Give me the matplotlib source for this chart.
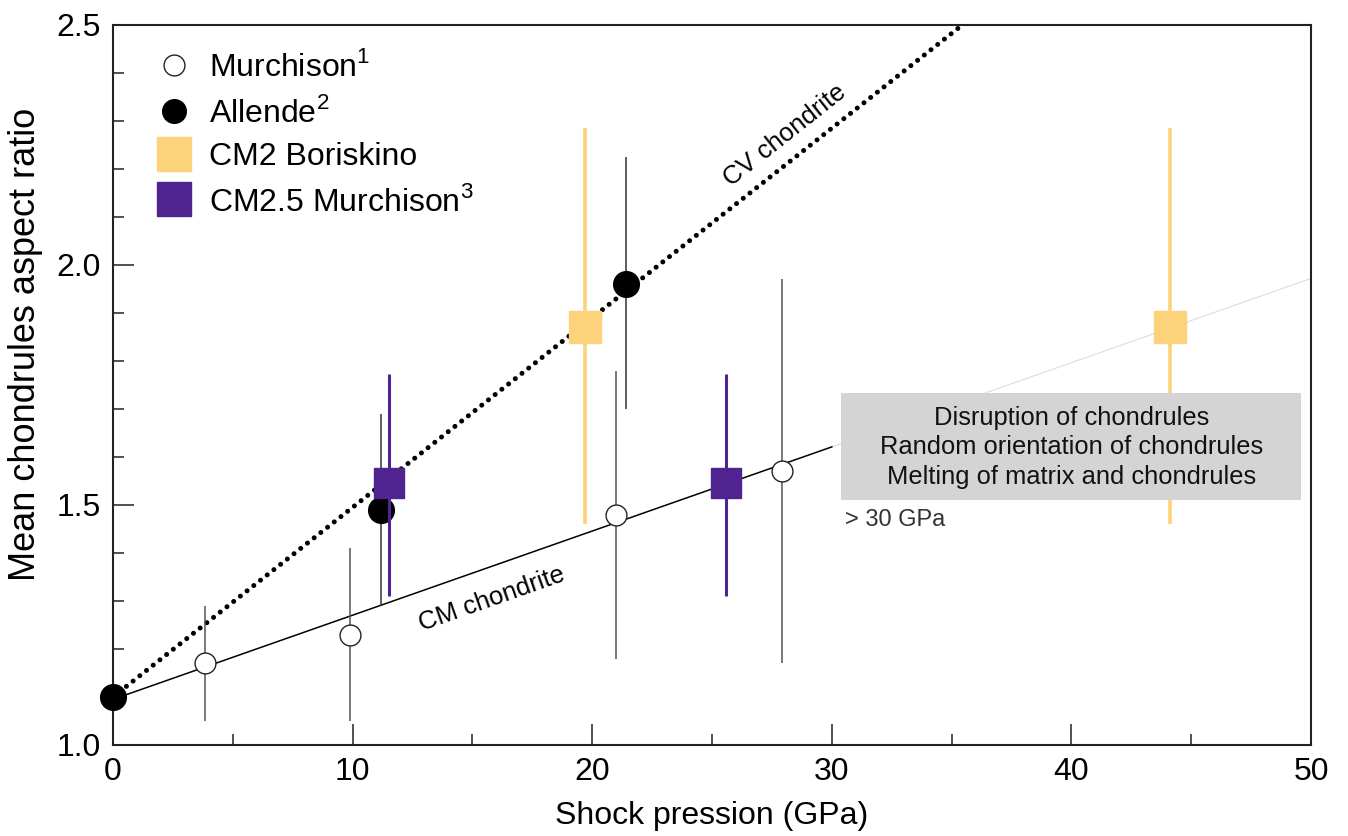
import numpy as np
import matplotlib
matplotlib.use('Agg')
import matplotlib.pyplot as plt
from matplotlib.lines import Line2D
from matplotlib.patches import Rectangle

plt.rcParams['font.family'] = ['Liberation Sans', 'DejaVu Sans']

# Murchison (open circles)
murch_x = [3.85, 9.9, 21.0, 27.9]
murch_y = [1.17, 1.23, 1.48, 1.57]
murch_lo = [1.05, 1.05, 1.18, 1.17]
murch_hi = [1.29, 1.41, 1.78, 1.97]

# Allende (filled circles)
allende_x = [0.0, 11.2, 21.4]
allende_y = [1.10, 1.49, 1.96]
allende_lo = [1.10, 1.29, 1.70]
allende_hi = [1.10, 1.69, 2.225]

# CM2 Boriskino
boris_x = [19.7, 44.1]
boris_y = [1.87, 1.87]
boris_lo = [1.46, 1.46]
boris_hi = [2.285, 2.285]

# CM2.5 Murchison
cm25_x = [11.5, 25.6]
cm25_y = [1.545, 1.545]
cm25_lo = [1.31, 1.31]
cm25_hi = [1.773, 1.773]

# trend lines
cm_x = [0, 30]
cm_y = [1.095, 1.621]
cm_ext_x = [30, 50]
cm_ext_y = [1.621, 1.972]
cv_x = [0, 40]
cv_y = [1.10, 2.68]

box_lines = ['Disruption of chondrules',
             'Random orientation of chondrules',
             'Melting of matrix and chondrules']

yellow = '#fcd27b'
purple = '#4f2491'


def yerr(y, lo, hi):
    y = np.array(y)
    return [y - np.array(lo), np.array(hi) - y]


fig = plt.figure(figsize=(13.48, 8.36), dpi=100)
ax = fig.add_axes([0.0838, 0.1089, 0.8888, 0.8612])
ax.set_xlim(0, 50)
ax.set_ylim(1.0, 2.5)

# lines
ax.plot(cm_ext_x, cm_ext_y, color='#dddddd', lw=0.8, zorder=1)
ax.plot(cm_x, cm_y, color='black', lw=1.1, zorder=2)
ax.plot(cv_x, cv_y, color='black', lw=3.6, linestyle=(0, (0.01, 1.7)),
        dash_capstyle='round', zorder=2)

# grey box
ax.add_patch(Rectangle((30.4, 1.51), 19.2, 0.223, facecolor='#d4d4d4',
                       edgecolor='none', zorder=6))
ax.text(40.0, 1.620, '\n'.join(box_lines), ha='center', va='center',
        fontsize=18.4, linespacing=1.3, color='#111111', zorder=7)
ax.text(30.55, 1.468, '> 30 GPa', ha='left', va='center', fontsize=17,
        color='#333333', zorder=7)

# data
ax.errorbar(murch_x, murch_y, yerr=yerr(murch_y, murch_lo, murch_hi),
            fmt='o', ms=15, mfc='white', mec='#222222', mew=1.0,
            ecolor='#555555', elinewidth=1.1, capsize=0, zorder=4)
ax.errorbar(allende_x, allende_y, yerr=yerr(allende_y, allende_lo, allende_hi),
            fmt='o', ms=18.5, mfc='black', mec='black',
            ecolor='#333333', elinewidth=1.1, capsize=0, zorder=4,
            clip_on=False)
ax.errorbar(boris_x, boris_y, yerr=yerr(boris_y, boris_lo, boris_hi),
            fmt='s', ms=22.5, mfc=yellow, mec=yellow,
            ecolor=yellow, elinewidth=2.6, capsize=0, zorder=5)
ax.errorbar(cm25_x, cm25_y, yerr=yerr(cm25_y, cm25_lo, cm25_hi),
            fmt='s', ms=21.5, mfc=purple, mec=purple,
            ecolor=purple, elinewidth=2.2, capsize=0, zorder=5)

# line labels
fig.canvas.draw()


def angle_of(xs, ys):
    p = ax.transData.transform(np.column_stack([xs, ys]))
    d = p[-1] - p[0]
    return np.degrees(np.arctan2(d[1], d[0]))


ax.text(28.05, 2.27, 'CV chondrite', rotation=angle_of(cv_x, cv_y),
        rotation_mode='anchor', ha='center', va='center', fontsize=18.5)
ax.text(15.8, 1.305, 'CM chondrite', rotation=angle_of(cm_x, cm_y),
        rotation_mode='anchor', ha='center', va='center', fontsize=18.5)

# axes styling
ax.set_xticks(np.arange(0, 51, 10))
ax.set_xticks(np.arange(5, 50, 10), minor=True)
ax.set_yticks([1.0, 1.5, 2.0, 2.5])
ax.set_yticks(np.arange(1.1, 2.5, 0.1), minor=True)
ax.tick_params(which='both', direction='in', top=False, right=False,
               labelsize=23, width=1.2, color='#333333')
ax.tick_params(which='major', length=15, pad=9)
ax.tick_params(which='minor', length=8)
for s in ax.spines.values():
    s.set_linewidth(1.5)
    s.set_color('#222222')

ax.set_xlabel('Shock pression (GPa)', fontsize=23, labelpad=10)
ax.set_ylabel('Mean chondrules aspect ratio', fontsize=26)
ax.yaxis.set_label_coords(-0.058, 0.556)

# legend
handles = [
    Line2D([], [], ls='none', marker='o', ms=15, mfc='white', mec='#222222', mew=1.0),
    Line2D([], [], ls='none', marker='o', ms=17, mfc='black', mec='black'),
    Line2D([], [], ls='none', marker='s', ms=25, mfc=yellow, mec=yellow),
    Line2D([], [], ls='none', marker='s', ms=25, mfc=purple, mec=purple),
]
labels = ['Murchison$^{\\mathregular{1}}$', 'Allende$^{\\mathregular{2}}$',
          'CM2 Boriskino', 'CM2.5 Murchison$^{\\mathregular{3}}$']
ax.legend(handles, labels, loc='upper left', bbox_to_anchor=(0.02, 0.99),
          frameon=False, fontsize=23, handlelength=1.1, handletextpad=0.55,
          labelspacing=0.42, borderaxespad=0.2)

fig.savefig('out.png', dpi=100)
